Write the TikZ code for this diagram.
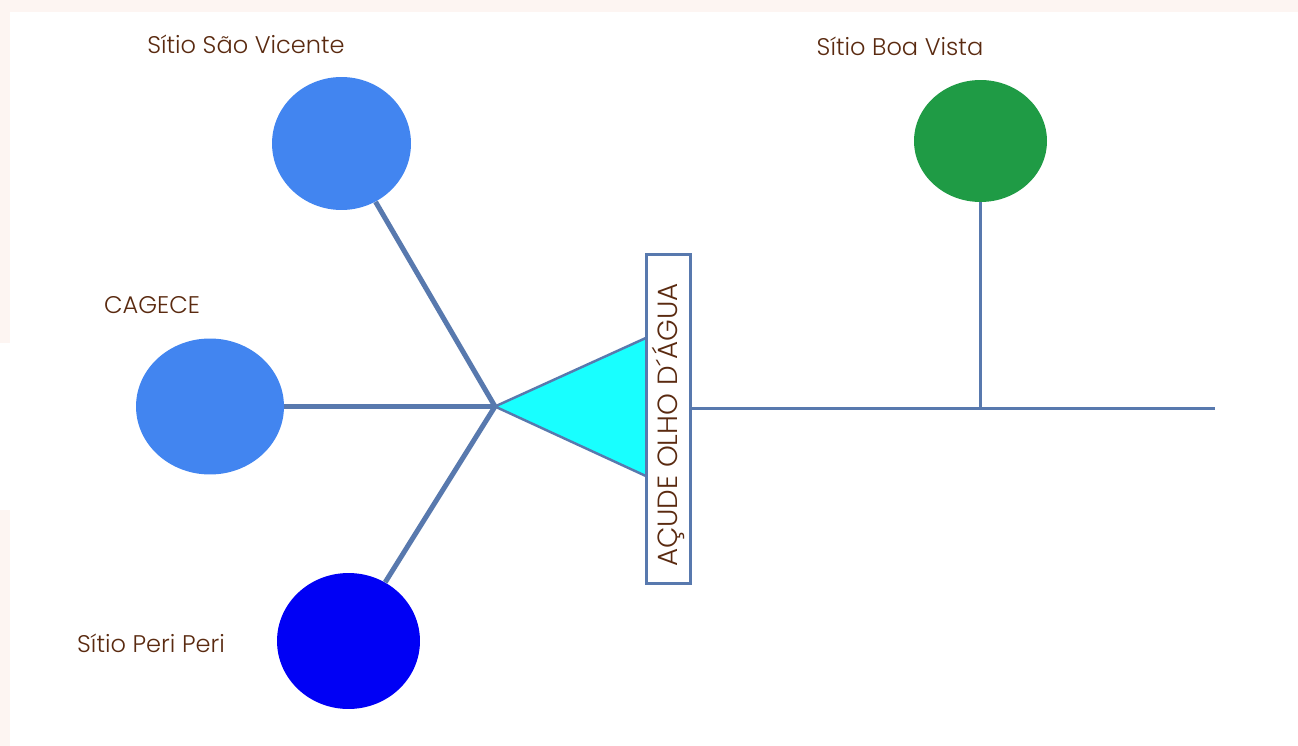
\documentclass[tikz,border=0pt]{standalone}
\usepackage{fontspec}
\setmainfont{Poppins}[UprightFont={* Light}]
\usetikzlibrary{shapes.geometric}
\definecolor{bgpink}{HTML}{FDF5F2}
\definecolor{lineblue}{HTML}{5879AE}
\definecolor{tankcyan}{HTML}{18FFFF}
\definecolor{sitioblue}{HTML}{4285F0}
\definecolor{deepblue}{HTML}{0000F5}
\definecolor{sitiogreen}{HTML}{1F9B45}
\definecolor{labelbrown}{HTML}{5A2A10}
\tikzset{
  sitio/.style={ellipse,inner sep=0pt},
  rotulo/.style={text=labelbrown,font=\fontsize{13.7}{16}\selectfont,inner sep=0pt},
  spoke/.style={lineblue,line width=2.85pt},
  pipe/.style={lineblue,line width=1.7pt}
}
\begin{document}
\begin{tikzpicture}[x=0.02cm,y=-0.02cm]
  \fill[bgpink] (0,0) rectangle (1298,746);
  \fill[white] (10,12) rectangle (1298,746);
  \fill[white] (0,343) rectangle (10,510);
  \useasboundingbox (0,0) rectangle (1298,746);

  \node[sitio,fill=sitioblue,minimum width=2.78cm,minimum height=2.66cm] (saovicente) at (341.5,143.5) {};
  \node[sitio,fill=sitioblue,minimum width=2.96cm,minimum height=2.72cm] (cagece) at (210,406.5) {};
  \node[sitio,fill=deepblue,minimum width=2.86cm,minimum height=2.72cm] (periperi) at (348.5,641) {};
  \node[sitio,fill=sitiogreen,minimum width=2.66cm,minimum height=2.44cm] (boavista) at (980.5,141) {};

  \node[rotulo] (lsaovicente) at (246,44) {Sítio São Vicente};
  \node[rotulo] (lboavista) at (900,46) {Sítio Boa Vista};
  \node[rotulo] (lcagece) at (152,305) {CAGECE};
  \node[rotulo] (lperiperi) at (151,643) {Sítio Peri Peri};

  \coordinate (hub) at (495,406.5);
  \coordinate (tritop) at (648,337);
  \coordinate (tribot) at (648,477);
  \coordinate (jn) at (980.5,408.5);
  \coordinate (fim) at (1215,408.5);

  \foreach \s in {saovicente,cagece,periperi}
    \draw[spoke] (\s) -- (hub);
  \draw[lineblue,line width=1.4pt,fill=tankcyan,line join=round] (hub) -- (tritop) -- (tribot) -- cycle;

  \node[draw=lineblue,line width=1.7pt,fill=white,rotate=90,minimum width=6.6cm,minimum height=0.86cm,
        text=labelbrown,font=\fontsize{15.8}{18}\selectfont] (acude) at (668.5,419) {AÇUDE OLHO D´ÁGUA\hspace*{0.24cm}};

  \draw[pipe] (acude.south |- jn) -- (fim);
  \draw[pipe] (boavista) -- (jn);
\end{tikzpicture}
\end{document}
